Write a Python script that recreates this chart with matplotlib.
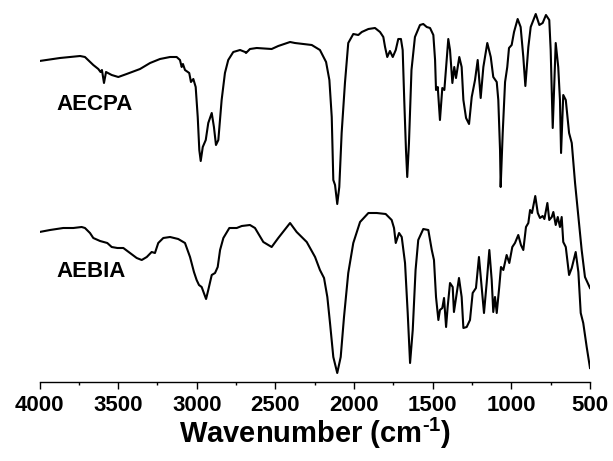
import matplotlib
matplotlib.use("Agg")
import matplotlib.pyplot as plt
from matplotlib.ticker import MultipleLocator

plt.rcParams['font.family'] = ['Liberation Sans', 'DejaVu Sans']
plt.rcParams['font.weight'] = 'bold'
plt.rcParams['mathtext.fontset'] = 'custom'
plt.rcParams['mathtext.rm'] = 'Liberation Sans:bold'
plt.rcParams['mathtext.it'] = 'Liberation Sans:bold'
plt.rcParams['mathtext.bf'] = 'Liberation Sans:bold'
plt.rcParams['mathtext.default'] = 'rm'

# AECPA spectrum (wavenumber, arbitrary transmittance units)
aecpa_wn = [4000, 3870, 3742, 3711, 3658, 3626, 3612, 3603, 3590, 3577, 3541, 3499,
            3446, 3361, 3297, 3234, 3170, 3128, 3107, 3096, 3088, 3075, 3048, 3037,
            3022, 3007, 2994, 2984, 2975, 2962, 2943, 2927, 2905, 2891, 2878, 2863,
            2842, 2821, 2800, 2768, 2725, 2693, 2687, 2662, 2619, 2524, 2482, 2407,
            2376, 2325, 2269, 2217, 2178, 2157, 2142, 2132, 2121, 2107, 2094, 2079,
            2058, 2037, 2005, 1973, 1951, 1909, 1867, 1835, 1814, 1803, 1789, 1772,
            1754, 1735, 1719, 1702, 1691, 1681, 1670, 1662, 1651, 1635, 1613, 1581,
            1560, 1538, 1517, 1496, 1485, 1479, 1468, 1454, 1439, 1426, 1411, 1401,
            1390, 1375, 1363, 1352, 1331, 1316, 1305, 1288, 1269, 1252, 1231, 1214,
            1195, 1178, 1153, 1131, 1115, 1093, 1083, 1072, 1068, 1055, 1040, 1026,
            1015, 998, 983, 960, 941, 924, 911, 892, 877, 845, 822, 801, 780, 759,
            750, 737, 718, 702, 691, 684, 670, 654, 633, 616, 595, 574, 553, 532, 500]
aecpa_t = [321, 324, 326, 325, 317, 313, 310, 312, 299, 310, 307, 305,
           308, 313, 319, 323, 325, 325, 322, 315, 318, 312, 309, 300,
           303, 295, 265, 232, 221, 235, 242, 259, 269, 255, 237, 242,
           282, 309, 322, 330, 332, 330, 329, 333, 334, 333, 336, 340,
           339, 338, 337, 332, 320, 302, 265, 202, 197, 178, 195, 249,
           299, 339, 348, 347, 350, 353, 354, 350, 345, 335, 325, 331,
           325, 332, 343, 343, 332, 282, 232, 205, 239, 312, 345, 357,
           358, 355, 354, 347, 322, 292, 295, 262, 294, 292, 322, 343,
           332, 299, 315, 304, 325, 315, 282, 264, 258, 285, 302, 322,
           284, 315, 339, 325, 305, 300, 282, 232, 195, 249, 300, 315,
           334, 337, 350, 363, 355, 325, 296, 335, 355, 368, 357, 359, 367, 362,
           332, 254, 339, 315, 282, 229, 287, 282, 249, 239, 199, 165, 132, 105, 94]

# AEBIA spectrum
aebia_wn = [4000, 3933, 3849, 3785, 3732, 3711, 3679, 3658, 3615, 3569, 3541, 3505,
            3467, 3425, 3382, 3350, 3318, 3287, 3266, 3245, 3213, 3170, 3118, 3075,
            3043, 3018, 3001, 2986, 2969, 2941, 2927, 2905, 2884, 2867, 2852, 2831,
            2793, 2746, 2714, 2662, 2630, 2577, 2524, 2482, 2407, 2365, 2301, 2248,
            2217, 2191, 2170, 2153, 2132, 2107, 2085, 2064, 2037, 2005, 1962, 1909,
            1856, 1799, 1761, 1746, 1735, 1714, 1697, 1676, 1659, 1644, 1627, 1609,
            1592, 1560, 1528, 1506, 1492, 1479, 1464, 1454, 1439, 1428, 1415, 1405,
            1390, 1373, 1365, 1352, 1333, 1316, 1305, 1284, 1263, 1246, 1225, 1206,
            1189, 1174, 1157, 1140, 1125, 1115, 1104, 1093, 1077, 1066, 1051, 1030,
            1013, 994, 977, 956, 939, 924, 907, 892, 881, 869, 848, 832, 818, 801,
            790, 771, 759, 743, 733, 718, 705, 691, 680, 670, 654, 633, 616, 591,
            574, 559, 543, 521, 500]
aebia_t = [150, 152, 154, 154, 155, 154, 149, 144, 141, 139, 135, 134,
           134, 129, 124, 122, 125, 130, 129, 139, 144, 145, 143, 139,
           125, 110, 102, 97, 95, 83, 92, 107, 109, 115, 132, 144,
           154, 154, 156, 157, 154, 140, 135, 144, 159, 150, 140, 125,
           112, 104, 85, 59, 25, 9, 25, 65, 109, 139, 160, 169,
           169, 168, 162, 154, 139, 149, 145, 119, 69, 19, 52, 112,
           142, 153, 152, 132, 122, 85, 62, 72, 74, 84, 55, 75,
           99, 95, 70, 84, 104, 85, 54, 55, 62, 89, 94, 125,
           95, 69, 99, 132, 102, 70, 85, 69, 95, 115, 112, 127,
           119, 135, 139, 147, 137, 132, 155, 159, 172, 169, 186, 169, 164, 166,
           163, 179, 162, 165, 170, 157, 165, 155, 165, 140, 135, 107, 114, 130,
           110, 69, 59, 35, 14]

xticks = [4000, 3500, 3000, 2500, 2000, 1500, 1000, 500]
labels = ["AECPA", "AEBIA"]

W, H = 613, 461
fig = plt.figure(figsize=(W / 100, H / 100), dpi=100)
ax = fig.add_axes([39.5 / W, (H - 382) / H, (590 - 39.5) / W, 382 / H])

ax.plot(aecpa_wn, aecpa_t, color='black', lw=1.5)
ax.plot(aebia_wn, aebia_t, color='black', lw=1.5)

ax.set_xlim(4000, 500)
ax.set_ylim(0, 382)

for s in ['top', 'right', 'left']:
    ax.spines[s].set_visible(False)
ax.spines['bottom'].set_linewidth(1.0)
ax.set_yticks([])
ax.set_xticks(xticks)
ax.set_xticklabels([str(t) for t in xticks])
ax.xaxis.set_minor_locator(MultipleLocator(250))
ax.tick_params(axis='x', which='major', direction='out', length=5, width=1,
               labelsize=16, pad=4)
ax.tick_params(axis='x', which='minor', direction='out', length=2.5, width=1)
for lab in ax.get_xticklabels():
    lab.set_fontweight('bold')

ax.set_xlabel('Wavenumber (cm$^{\u2010 1}$)', fontsize=21, fontweight='bold', labelpad=0)

ax.text(3890, 272, labels[0], fontsize=16, fontweight='bold', va='baseline', ha='left')
ax.text(3890, 105, labels[1], fontsize=16, fontweight='bold', va='baseline', ha='left')

fig.savefig('out.png', dpi=100)
